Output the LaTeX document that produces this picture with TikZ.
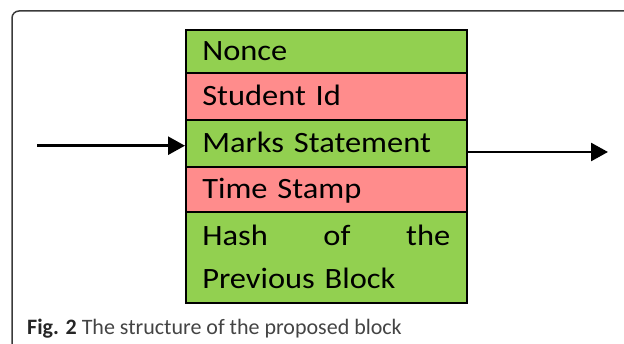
\documentclass[tikz,border=0pt]{standalone}
\usepackage{fontspec}
\setmainfont{Carlito}[FakeStretch=1.1]
\newfontfamily\capfont{Carlito}
\usetikzlibrary{arrows.meta}
\definecolor{blockgreen}{HTML}{92D050}
\definecolor{blockred}{HTML}{FF8C8C}
\definecolor{framegray}{HTML}{3A3A3A}
\definecolor{capgray}{HTML}{444444}
\begin{document}
\begin{tikzpicture}[x=1pt,y=-1pt]
    \tikzstyle{row}=[draw=black, line width=1.6pt, anchor=north west, minimum width=281pt,
      inner xsep=16pt, inner ysep=0pt, text width=248pt, align=left,
      font=\fontsize{29.5}{43}\selectfont, text height=19pt, text depth=0pt]
    \tikzstyle{arr}=[line width=2.7pt, -{Triangle[length=17pt,width=18pt]}]
    \useasboundingbox (0,0) rectangle (624,344);
    % frame of the figure
    \draw[framegray, line width=1.5pt, rounded corners=7pt] (12,360) -- (12,11) -- (650,11);
    % the block
    \node[row, fill=blockgreen, minimum height=43pt] (nonce) at (185,29){Nonce};
    \node[row, fill=blockred, minimum height=47pt] (sid) at (185,72){Student Id};
    \node[row, fill=blockgreen, minimum height=47pt] (marks) at (185,119){Marks Statement};
    \node[row, fill=blockred, minimum height=45pt] (stamp) at (185,166){Time Stamp};
    \node[row, fill=blockgreen, minimum height=91pt, text height=, text depth=] (hash) at (185,211){Hash\hfill of\hfill the\\Previous Block};
    % links
    \coordinate (src) at (37,145.7);
    \coordinate (dst) at (608,152);
    \draw[arr] (src) -- (src -| marks.west);
    \draw[arr] (dst -| marks.east) -- (dst);
    % caption
    \node[anchor=base west, inner sep=0pt, text=capgray, font=\capfont\fontsize{22}{24}\selectfont] (cap) at (27,335){{\color{black!85}\bfseries Fig. 2} The structure of the proposed block};
  \end{tikzpicture}
\end{document}
